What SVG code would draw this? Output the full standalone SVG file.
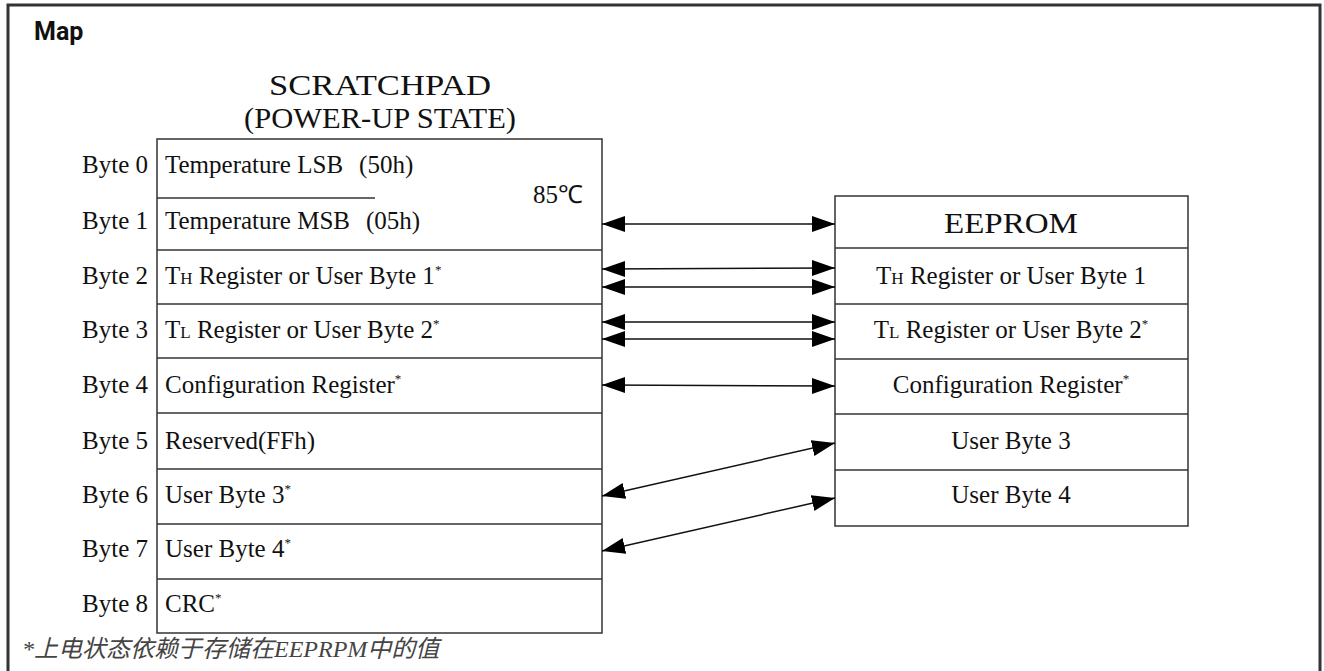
<svg xmlns="http://www.w3.org/2000/svg" width="1324" height="671" viewBox="0 0 1324 671">
<defs>
<style>
.t{font-family:"Liberation Serif","Times New Roman",serif;font-size:25px;fill:#111}
.c{text-anchor:middle}
.e{text-anchor:end}
.sub{font-size:17px}
.sup{font-size:13px}
.box{fill:#fff;stroke:#333;stroke-width:1.5}
.ln{stroke:#333;stroke-width:1.5}
.ar{stroke:#111;stroke-width:1.5;fill:none;marker-start:url(#ah);marker-end:url(#ah)}
</style>
<marker id="ah" markerUnits="userSpaceOnUse" markerWidth="24" markerHeight="18" refX="23" refY="8" orient="auto-start-reverse" viewBox="0 0 24 16">
<path d="M0,0 L23,8 L0,16 z" fill="#000"/>
</marker>
</defs>
<rect width="1324" height="671" fill="#fff"/>
<rect x="8" y="5" width="1312" height="700" fill="none" stroke="#333" stroke-width="3"/>
<text x="34" y="40" style="font-family:Roboto,'DejaVu Sans',sans-serif;font-weight:bold;font-size:25px;fill:#111">Map</text>

<g id="scratchpad">
<text class="t c" x="380" y="95" style="font-size:30px" textLength="222" lengthAdjust="spacingAndGlyphs">SCRATCHPAD</text>
<text class="t c" x="380" y="128" style="font-size:30px" textLength="272" lengthAdjust="spacingAndGlyphs">(POWER-UP STATE)</text>
<rect class="box" x="157" y="139" width="445" height="494"/>
<line class="ln" x1="157" y1="198" x2="375" y2="198"/>
<line class="ln" x1="157" y1="250" x2="602" y2="250"/>
<line class="ln" x1="157" y1="304" x2="602" y2="304"/>
<line class="ln" x1="157" y1="358" x2="602" y2="358"/>
<line class="ln" x1="157" y1="413" x2="602" y2="413"/>
<line class="ln" x1="157" y1="469" x2="602" y2="469"/>
<line class="ln" x1="157" y1="524" x2="602" y2="524"/>
<line class="ln" x1="157" y1="579" x2="602" y2="579"/>
<text class="t" x="533" y="203">85℃</text>
</g>

<g id="byte0"><text class="t e" x="148" y="173">Byte 0</text><text class="t" x="165" y="173">Temperature LSB<tspan dx="16">(50h)</tspan></text></g>
<g id="byte1"><text class="t e" x="148" y="229">Byte 1</text><text class="t" x="165" y="229">Temperature MSB<tspan dx="16">(05h)</tspan></text></g>
<g id="byte2"><text class="t e" x="148" y="284">Byte 2</text><text class="t" x="165" y="284">T<tspan class="sub">H</tspan> Register or User Byte 1<tspan class="sup" dy="-10">*</tspan></text></g>
<g id="byte3"><text class="t e" x="148" y="338">Byte 3</text><text class="t" x="165" y="338">T<tspan class="sub">L</tspan> Register or User Byte 2<tspan class="sup" dy="-10">*</tspan></text></g>
<g id="byte4"><text class="t e" x="148" y="393">Byte 4</text><text class="t" x="165" y="393">Configuration Register<tspan class="sup" dy="-10">*</tspan></text></g>
<g id="byte5"><text class="t e" x="148" y="449">Byte 5</text><text class="t" x="165" y="449">Reserved(FFh)</text></g>
<g id="byte6"><text class="t e" x="148" y="503">Byte 6</text><text class="t" x="165" y="503">User Byte 3<tspan class="sup" dy="-10">*</tspan></text></g>
<g id="byte7"><text class="t e" x="148" y="557">Byte 7</text><text class="t" x="165" y="557">User Byte 4<tspan class="sup" dy="-10">*</tspan></text></g>
<g id="byte8"><text class="t e" x="148" y="612">Byte 8</text><text class="t" x="165" y="612">CRC<tspan class="sup" dy="-10">*</tspan></text></g>

<g id="eeprom">
<rect class="box" x="835" y="196" width="353" height="330"/>
<line class="ln" x1="835" y1="248" x2="1188" y2="248"/>
<line class="ln" x1="835" y1="304" x2="1188" y2="304"/>
<line class="ln" x1="835" y1="359" x2="1188" y2="359"/>
<line class="ln" x1="835" y1="414" x2="1188" y2="414"/>
<line class="ln" x1="835" y1="470" x2="1188" y2="470"/>
<text class="t c" x="1011" y="233" style="font-size:30px" textLength="134" lengthAdjust="spacingAndGlyphs">EEPROM</text>
<text class="t c" x="1011" y="284">T<tspan class="sub">H</tspan> Register or User Byte 1</text>
<text class="t c" x="1011" y="338">T<tspan class="sub">L</tspan> Register or User Byte 2<tspan class="sup" dy="-10">*</tspan></text>
<text class="t c" x="1011" y="393">Configuration Register<tspan class="sup" dy="-10">*</tspan></text>
<text class="t c" x="1011" y="449">User Byte 3</text>
<text class="t c" x="1011" y="503">User Byte 4</text>
</g>

<g id="connectors">
<line class="ar" x1="602" y1="224" x2="835" y2="224"/>
<line class="ar" x1="602" y1="269" x2="835" y2="268"/>
<line class="ar" x1="602" y1="287" x2="835" y2="287"/>
<line class="ar" x1="602" y1="322" x2="835" y2="322"/>
<line class="ar" x1="602" y1="339" x2="835" y2="339"/>
<line class="ar" x1="602" y1="385" x2="835" y2="386"/>
<line class="ar" x1="602" y1="496" x2="835" y2="443"/>
<line class="ar" x1="602" y1="551" x2="835" y2="498"/>
</g>

<text x="22" y="657" style="font-family:'Liberation Serif','Noto Sans CJK SC',serif;font-style:italic;font-size:24px;fill:#444">*上电状态依赖于存储在EEPRPM中的值</text>
</svg>
